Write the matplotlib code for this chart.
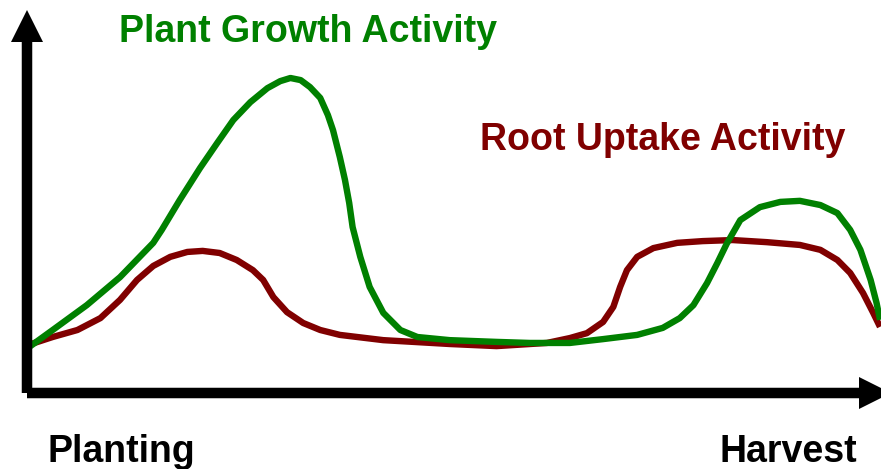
import matplotlib
matplotlib.use("Agg")
import matplotlib.pyplot as plt
from matplotlib.patches import FancyArrow

# time from planting (0) to harvest (100), activity in relative units
growth_t = [0.0, 2.9, 6.9, 10.8, 14.7, 15.7, 17.8, 20.2, 22.2, 24.1, 26.1, 28.1, 29.6, 30.8,
            32.0, 33.1, 34.3, 35.2, 35.8, 36.6, 37.2, 37.7, 38.1, 39.0, 40.1, 41.7, 43.7,
            45.7, 49.5, 55.0, 58.9, 63.6, 67.5, 71.5, 74.5, 76.5, 78.1, 79.7, 80.9, 82.0,
            83.6, 85.9, 88.3, 90.6, 93.0, 95.0, 96.5, 97.7, 98.9, 99.6, 100.0]
growth_a = [12.9, 18.0, 25.1, 33.1, 42.9, 46.6, 55.1, 64.3, 71.4, 78.0, 83.1, 87.1, 89.1, 90.0,
            89.4, 87.4, 84.3, 79.4, 75.1, 67.4, 60.9, 54.3, 47.4, 38.9, 30.3, 22.9, 18.0,
            16.0, 15.1, 14.6, 14.3, 14.3, 15.4, 16.6, 18.6, 21.4, 25.1, 31.4, 37.1, 42.6,
            49.4, 53.1, 54.6, 54.9, 53.7, 51.4, 46.6, 40.9, 32.3, 25.7, 20.9]

root_t = [0.0, 2.9, 5.8, 8.5, 10.8, 12.8, 14.7, 16.7, 18.7, 20.5, 22.5, 24.5, 26.4, 27.6,
          28.8, 30.4, 32.3, 34.3, 36.6, 41.7, 49.5, 55.0, 60.9, 63.6, 65.6, 67.5, 68.7,
          69.5, 70.3, 71.5, 73.4, 76.2, 79.2, 82.7, 86.7, 90.6, 93.0, 95.0, 96.5, 98.0,
          99.2, 100.0]
root_a = [13.7, 16.0, 18.0, 21.4, 26.6, 32.3, 36.3, 38.9, 40.3, 40.6, 40.0, 38.0, 35.1, 32.3,
          27.4, 23.1, 20.0, 18.0, 16.6, 15.1, 14.0, 13.4, 14.3, 15.7, 17.1, 20.3, 24.6,
          30.3, 35.1, 38.9, 41.4, 42.9, 43.4, 43.7, 43.1, 42.3, 40.9, 38.0, 34.3, 28.6,
          22.9, 18.9]

labels = ["Plant Growth Activity", "Root Uptake Activity"]
x_labels = ["Planting", "Harvest"]

green = "#008000"
red = "#800000"

plt.rcParams['font.family'] = ['Liberation Sans', 'DejaVu Sans']

fig = plt.figure(figsize=(8.81, 4.69), dpi=100)
ax = fig.add_axes([28 / 881, 76 / 469, 852 / 881, 350 / 469])
ax.set_xlim(0, 100)
ax.set_ylim(0, 100)
ax.axis('off')

# axis arrows (sizes in inches)
head = dict(width=0.105, head_width=0.32, head_length=0.32, length_includes_head=True,
            color='black', lw=0, transform=fig.dpi_scale_trans)
fig.add_artist(FancyArrow(0.27, 0.76, 0, 3.83, **head))
fig.add_artist(FancyArrow(0.27, 0.76, 8.64, 0, **head))

ax.plot(root_t, root_a, color=red, lw=4.6, clip_on=False,
        solid_joinstyle='round', solid_capstyle='butt')
ax.plot(growth_t, growth_a, color=green, lw=4.6, clip_on=False,
        solid_joinstyle='round', solid_capstyle='butt')

txt = dict(fontsize=27, fontweight='bold', va='baseline', ha='left')
fig.text(119 / 881, 1 - 42 / 469, labels[0], color=green, **txt)
fig.text(480 / 881, 1 - 150 / 469, labels[1], color=red, **txt)
fig.text(47 / 881, 1 - 462 / 469, x_labels[0], color='black', **txt)
fig.text(720 / 881, 1 - 462 / 469, x_labels[1], color='black', **txt)

fig.savefig("out.png", dpi=100)
